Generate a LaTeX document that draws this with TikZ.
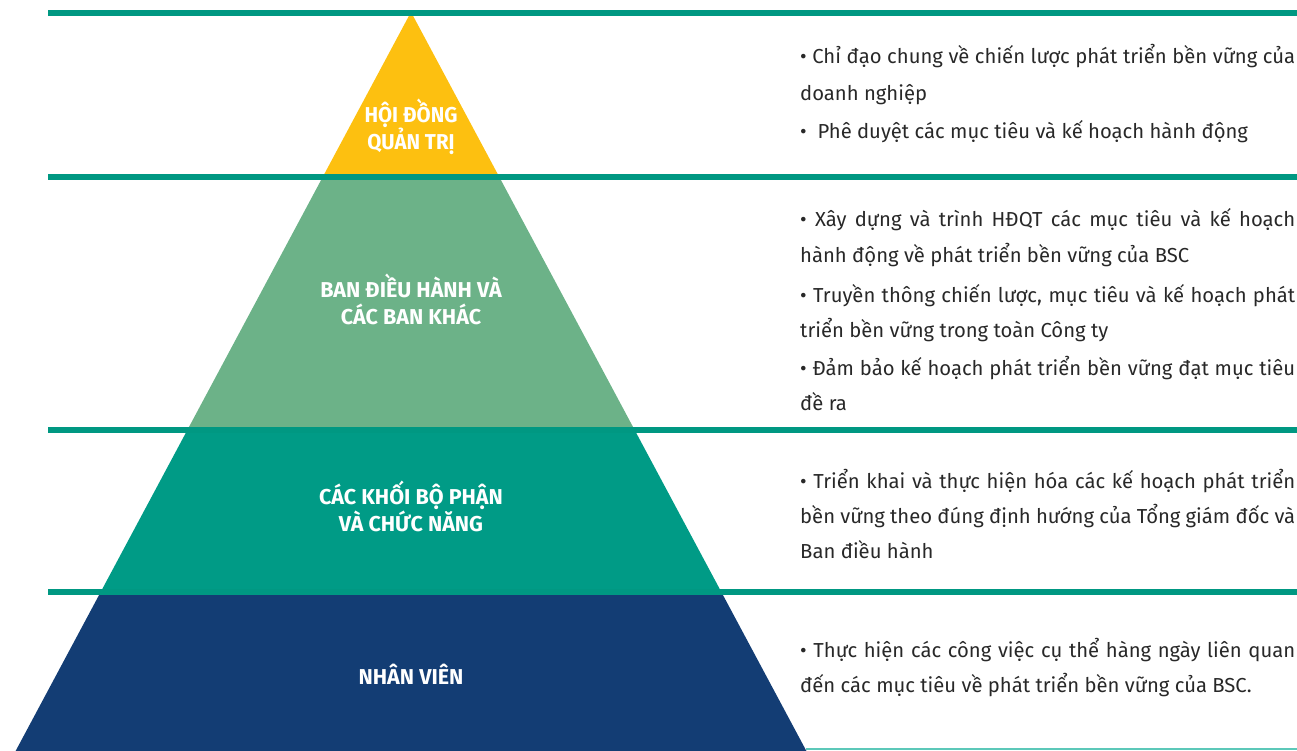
\documentclass[tikz,border=0pt]{standalone}
\usepackage{fontspec}
\setmainfont{Fira Sans}
\newfontfamily\labfont{Fira Sans}
\newfontfamily\labcond[FakeStretch=0.95]{Fira Sans}
\definecolor{yellowc}{RGB}{253,192,16}
\definecolor{greenc}{RGB}{108,178,136}
\definecolor{tealc}{RGB}{0,155,134}
\definecolor{navyc}{RGB}{19,61,116}
\definecolor{linec}{RGB}{0,152,130}
\definecolor{thinc}{RGB}{92,200,185}
\definecolor{txt}{RGB}{40,40,40}
\tikzset{
  sep/.style={line width=5.5pt, linec},
  body/.style={anchor=base west, inner sep=0pt, text=txt, font=\fontsize{20.25}{24}\selectfont},
  lab/.style={anchor=base, inner sep=0pt, text=white, align=center, font=\labfont\bfseries\fontsize{21.5}{27}\selectfont},
}
\newcommand{\fl}[1]{\makebox[495pt][s]{#1}}
\begin{document}
\begin{tikzpicture}[x=1pt,y=-1pt]
\useasboundingbox (0,0) rectangle (1297,751);
\coordinate (apex) at (411,12);
\coordinate (bl) at (15.6,751);
\coordinate (br) at (806.4,751);
% bands
\begin{scope}\clip (0,0) rectangle (1297,177);
\fill[yellowc] (apex) -- (bl) -- (br) -- cycle;\end{scope}
\begin{scope}\clip (0,177) rectangle (1297,430);
\fill[greenc] (apex) -- (bl) -- (br) -- cycle;\end{scope}
\begin{scope}\clip (0,430) rectangle (1297,592);
\fill[tealc] (apex) -- (bl) -- (br) -- cycle;\end{scope}
\begin{scope}\clip (0,592) rectangle (1297,751);
\fill[navyc] (apex) -- (bl) -- (br) -- cycle;\end{scope}
% separator lines
\coordinate (l1a) at (48,13);  \coordinate (l1b) at (1297,13);
\coordinate (l2a) at (48,177); \coordinate (l2b) at (1297,177);
\coordinate (l3a) at (48,430); \coordinate (l3b) at (1297,430);
\coordinate (l4a) at (48,592); \coordinate (l4b) at (1297,592);
\coordinate (l5a) at (806,749); \coordinate (l5b) at (1297,749);
\draw[sep] (l1a) -- (l1b);
\draw[sep] (l2a) -- (l2b);
\draw[sep] (l3a) -- (l3b);
\draw[sep] (l4a) -- (l4b);
\draw[thinc, line width=1.5pt] (l5a) -- (l5b);
% labels (anchored at the baseline of the last line)
\node[lab, font=\labcond\bfseries\fontsize{21.5}{27}\selectfont] (L1) at (411,150) {HỘI ĐỒNG\\QUẢN TRỊ};
\node[lab] (L2) at (411,324) {BAN ĐIỀU HÀNH VÀ\\CÁC BAN KHÁC};
\node[lab, font=\labfont\bfseries\fontsize{21.5}{24}\selectfont] (L3) at (411,531) {CÁC KHỐI BỘ PHẬN\\VÀ CHỨC NĂNG};
\node[lab] (L4) at (411,684) {NHÂN VIÊN};
% right texts
\node[body] (a1) at (800,64) {\fl{• Chỉ đạo chung về chiến lược phát triển bền vững của}};
\node[body] (a2) at (800,101) {doanh nghiệp};
\node[body] (a3) at (800,139) {•\ \ Phê duyệt các mục tiêu và kế hoạch hành động};
\node[body] (b1) at (800,227) {\fl{• Xây dựng và trình HĐQT các mục tiêu và kế hoạch}};
\node[body] (b2) at (800,262) {hành động về phát triển bền vững của BSC};
\node[body] (b3) at (800,302) {\fl{• Truyền thông chiến lược, mục tiêu và kế hoạch phát}};
\node[body] (b4) at (800,337) {triển bền vững trong toàn Công ty};
\node[body] (b5) at (800,375) {\fl{• Đảm bảo kế hoạch phát triển bền vững đạt mục tiêu}};
\node[body] (b6) at (800,410) {đề ra};
\node[body] (c1) at (800,488) {\fl{• Triển khai và thực hiện hóa các kế hoạch phát triển}};
\node[body] (c2) at (800,523) {\fl{bền vững theo đúng định hướng của Tổng giám đốc và}};
\node[body] (c3) at (800,558) {Ban điều hành};
\node[body] (d1) at (800,657) {\fl{• Thực hiện các công việc cụ thể hàng ngày liên quan}};
\node[body] (d2) at (800,692) {đến các mục tiêu về phát triển bền vững của BSC.};
\end{tikzpicture}
\end{document}
